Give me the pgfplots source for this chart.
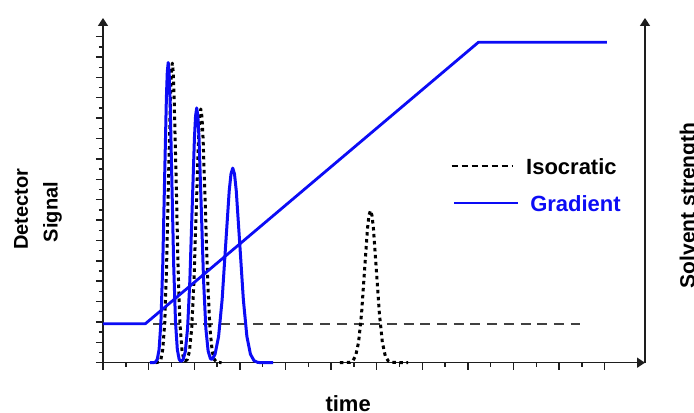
\documentclass[border=0pt]{standalone}
\usepackage{pgfplots}
\pgfplotsset{compat=1.18}
\usetikzlibrary{arrows.meta}
\usepackage{fontspec}
\setmainfont{Liberation Sans}
\definecolor{gradblue}{RGB}{12,12,245}
\definecolor{axisgray}{RGB}{30,30,30}
\begin{document}
\begin{tikzpicture}
  % page = 694 x 413 bp, axis origin at (0,0)
  \path[use as bounding box] (-103bp,-50.3bp) rectangle (591bp,362.7bp);
  \begin{axis}[
    scale only axis,
    width=542bp, height=344.7bp,
    xmin=0, xmax=23.77,
    ymin=0, ymax=33.83,
    enlargelimits=false,
    axis x line=bottom, axis y line=left,
    axis line style={line width=1.5bp, axisgray},
    x axis line style={-{Triangle[length=8bp,width=10bp]}},
    y axis line style={-{Triangle[length=8bp,width=10bp]}},
    xtick={0,2,...,22}, minor xtick={1,3,...,21},
    ytick={0,2,...,32}, minor ytick={1,3,...,31},
    xticklabels={}, yticklabels={},
    tick align=outside,
    major tick length=7bp, minor tick length=4bp,
    tick style={line width=1.4bp, axisgray},
    clip=false,
  ]
    % solvent strength, isocratic
    \addplot[black!75, line width=1.9bp, dash pattern=on 10bp off 6.7bp]
      coordinates {(2.2,3.77) (20.9,3.77)};

    % isocratic chromatogram
    \addplot[black, line width=3bp, dash pattern=on 3.5bp off 3.5bp, line join=round]
      coordinates {
        (2.30,0) (2.456,0.065) (2.54,0.33) (2.62,1.29) (2.71,3.98) (2.79,9.55)
        (2.87,17.83) (2.96,25.95) (3.00,28.5) (3.04,29.4) (3.08,28.5) (3.12,25.95)
        (3.21,17.83) (3.29,9.55) (3.37,3.98) (3.46,1.29) (3.54,0.35) (3.60,0.17)
        (3.69,0.29) (3.79,1.09) (3.89,3.37) (3.99,8.08) (4.09,15.1) (4.19,21.97)
        (4.24,24.13) (4.29,24.9) (4.34,24.13) (4.39,21.97) (4.49,15.1) (4.59,8.08)
        (4.69,3.37) (4.79,1.09) (4.89,0.28) (4.99,0.055) (5.2,0)
      };
    \addplot[black, line width=3bp, dash pattern=on 3.5bp off 3.5bp, line join=round]
      coordinates {
        (10.39,0) (10.82,0.03) (10.95,0.17) (11.08,0.66) (11.21,2.02) (11.34,4.85)
        (11.47,9.06) (11.60,13.18) (11.665,14.47) (11.73,14.93) (11.795,14.47)
        (11.86,13.18) (11.99,9.06) (12.12,4.85) (12.25,2.02) (12.38,0.66)
        (12.51,0.17) (12.64,0.03) (13.38,0)
      };

    % gradient chromatogram
    \addplot[gradblue, line width=3bp, line join=round]
      coordinates {
        (2.06,0) (2.22,0) (2.30,0.06) (2.38,0.33) (2.46,1.29) (2.54,3.99) (2.62,9.57)
        (2.70,17.87) (2.78,26.0) (2.82,28.55) (2.86,29.46) (2.90,28.55) (2.94,26.0)
        (3.02,17.87) (3.10,9.57) (3.18,3.99) (3.26,1.29) (3.34,0.34) (3.41,0.13)
        (3.51,0.28) (3.61,1.10) (3.71,3.38) (3.81,8.12) (3.91,15.16) (4.01,22.06)
        (4.06,24.23) (4.11,25.0) (4.16,24.23) (4.21,22.06) (4.31,15.16) (4.41,8.12)
        (4.51,3.38) (4.61,1.15) (4.71,0.41) (4.76,0.34) (4.81,0.40) (4.915,0.84)
        (5.07,2.58) (5.225,6.20) (5.38,11.58) (5.535,16.86) (5.6125,18.51) (5.69,19.1)
        (5.7675,18.51) (5.845,16.86) (6.00,11.58) (6.155,6.20) (6.31,2.58)
        (6.465,0.84) (6.62,0.21) (6.775,0.04) (6.93,0) (7.46,0)
      };

    % solvent strength, gradient
    \addplot[gradblue, line width=2.8bp, line join=round]
      coordinates {(0,3.83) (1.86,3.83) (16.46,31.44) (22.1,31.44)};

    % right axis
    \draw[line width=1.5bp, axisgray, -{Triangle[length=8bp,width=10bp]}]
      (axis cs:23.77,0) -- (axis cs:23.77,33.83);

    % legend
    \draw[black, line width=1.8bp, dash pattern=on 6bp off 4bp]
      (axis cs:15.29,19.33) -- (axis cs:17.93,19.33);
    \node[anchor=west, inner sep=0pt, font=\bfseries\fontsize{22bp}{26bp}\selectfont]
      at (axis cs:18.55,19.2) {Isocratic};
    \draw[gradblue, line width=2.3bp]
      (axis cs:15.41,15.70) -- (axis cs:18.19,15.70);
    \node[anchor=west, inner sep=0pt, text=gradblue, font=\bfseries\fontsize{22bp}{26bp}\selectfont]
      at (axis cs:18.73,15.57) {Gradient};

    % axis titles
    \node[rotate=90, anchor=base, inner sep=0pt, font=\bfseries\fontsize{20bp}{24bp}\selectfont]
      at (axis cs:-3.29,15.08) {Detector};
    \node[rotate=90, anchor=base, inner sep=0pt, font=\bfseries\fontsize{20bp}{24bp}\selectfont]
      at (axis cs:-1.99,14.79) {Signal};
    \node[rotate=90, anchor=base, inner sep=0pt, font=\bfseries\fontsize{21bp}{25bp}\selectfont]
      at (axis cs:25.96,15.43) {Solvent strength};
    \node[anchor=base, inner sep=0pt, font=\bfseries\fontsize{22bp}{26bp}\selectfont]
      at (axis cs:10.75,-4.81) {time};
  \end{axis}
\end{tikzpicture}
\end{document}
